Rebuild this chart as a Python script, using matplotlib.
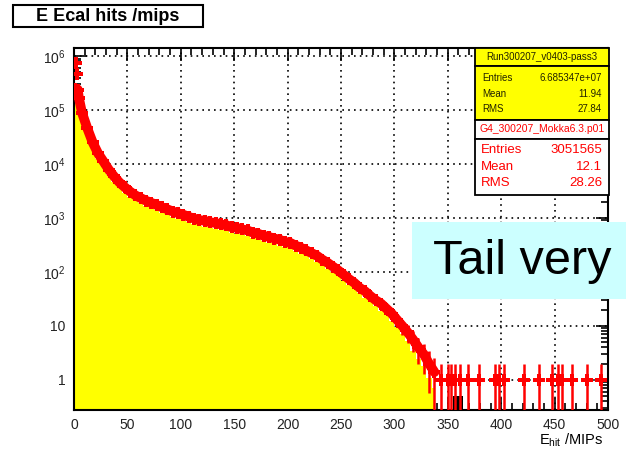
import numpy as np
import matplotlib
matplotlib.use("Agg")
import matplotlib.pyplot as plt
from matplotlib.patches import Rectangle
from matplotlib.ticker import MultipleLocator, LogLocator, NullFormatter

plt.rcParams["font.family"] = ["Liberation Sans", "DejaVu Sans"]
plt.rcParams["mathtext.default"] = "regular"

# data histogram (yellow), bin edges in MIPs and counts per bin
data_edges = [0, 1, 2, 3, 4] + list(range(5, 340, 5)) + [338]
data_counts = [251000, 251000, 224000, 158000, 126000,
               70800, 35500, 20000, 12600, 8900, 6300, 4680, 3630, 2950, 2450,
               2090, 1860, 1660, 1510, 1380, 1260, 1150, 1050, 977, 891,
               832, 776, 724, 692, 661, 631, 603, 575, 537, 513,
               490, 457, 427, 398, 372, 347, 331, 309, 288, 269,
               245, 219, 195, 174, 151, 132, 115, 98, 83, 69,
               58, 48, 40, 33, 28, 23, 19, 16, 12.6, 9.5,
               7.1, 5.2, 3.5, 2.5, 1.8, 1.1, 0.7]

# MC points (red)
mc_x = [0.5, 1.5, 2.5, 3.5, 4.5] + list(np.arange(7.5, 340, 5))
mc_y = [245000, 740000, 470000, 240000, 170000,
        89000, 45700, 25100, 15800, 11200, 7900, 5900, 4570, 3720, 3090,
        2630, 2340, 2090, 1910, 1740, 1580, 1450, 1320, 1230, 1150,
        1050, 977, 912, 891, 832, 813, 759, 741, 676, 661,
        617, 589, 537, 513, 468, 447, 417, 398, 363, 347,
        309, 282, 251, 224, 200, 170, 148, 126, 107, 89,
        74, 63, 51, 44, 36, 30, 26, 21, 17, 13,
        10, 7.6, 5.6, 4.0, 3.0, 2.0, 1.4]
tail_x = [344, 350, 353, 357, 361, 369, 379, 394, 398, 403,
          421, 435, 448, 453, 457, 466, 480, 493]
tail_y = [1] * len(tail_x)

# small black data remnant
black_edges = [355, 364]
black_counts = [0.5]

W, H = 626, 450
fig = plt.figure(figsize=(W / 100, H / 100), dpi=100)
ax = fig.add_axes([74 / W, 1 - 410 / H, (608 - 74) / W, (410 - 48) / H])

ax.stairs(data_counts, data_edges, fill=True, color="#ffff00", baseline=1e-3, zorder=2)
ax.stairs(black_counts, black_edges, fill=True, color="black", baseline=1e-3, zorder=2)

# thick band joining the MC points
ax.plot(mc_x[3:], mc_y[3:], color="red", lw=7, solid_joinstyle="round",
        solid_capstyle="round", zorder=3)
px_ = np.array(mc_x + tail_x)
py_ = np.array(mc_y + tail_y, dtype=float)
ax.errorbar(px_, py_, yerr=np.sqrt(py_), fmt="P", color="red", ms=8,
            mew=0, elinewidth=1.8, capsize=0, zorder=3)

ax.set_yscale("log")
ax.set_xlim(0, 500)
ax.set_ylim(0.278, 1.41e6)

ax.set_xticks(range(0, 501, 50))
ax.xaxis.set_minor_locator(MultipleLocator(10))
ax.set_yticks([1, 10, 1e2, 1e3, 1e4, 1e5, 1e6])
ax.set_yticklabels(["1", "10", "$10^{2}$", "$10^{3}$", "$10^{4}$", "$10^{5}$", "$10^{6}$"])
ax.yaxis.set_minor_locator(LogLocator(base=10, subs=np.arange(2, 10)))
ax.yaxis.set_minor_formatter(NullFormatter())
ax.tick_params(which="both", direction="in", top=True, right=True, labelsize=10,
               width=1.2, labelcolor="#222222")
ax.tick_params(which="major", length=9, pad=6)
ax.tick_params(which="minor", length=5)
ax.grid(True, which="major", color="black", linestyle=(0, (1, 2.5)), linewidth=1.2)
for s in ax.spines.values():
    s.set_linewidth(1.5)

fig.text(603 / W, 1 - 440 / H, r"E$_{hit}$ /MIPs", ha="right", va="center", fontsize=10.5)


def box(x0, y0, x1, y1, fc, lw=1.3):
    fig.add_artist(Rectangle((x0 / W, 1 - y1 / H), (x1 - x0) / W, (y1 - y0) / H,
                             transform=fig.transFigure, facecolor=fc,
                             edgecolor="black", linewidth=lw, zorder=5))


def txt(x, y, s, **kw):
    fig.text(x / W, 1 - y / H, s, va="center", zorder=6, **kw)


# title
box(13, 5, 203, 27, "white", lw=1.5)
txt(108, 16.5, "E Ecal hits /mips", ha="center", fontsize=13, fontweight="bold")

# stats boxes
box(475, 48, 609, 66, "#ffff00")
box(475, 66, 609, 120, "#ffff00")
txt(542, 57, "Run300207_v0403-pass3", ha="center", fontsize=7, color="#222200")
for yy, lab, val in [(78, "Entries", "6.685347e+07"), (94, "Mean", "11.94"), (109, "RMS", "27.84")]:
    txt(482, yy, lab, ha="left", fontsize=7, color="#222200")
    txt(602, yy, val, ha="right", fontsize=7, color="#222200")

box(475, 120, 609, 139, "white")
box(475, 139, 609, 195, "white")
txt(542, 129.5, "G4_300207_Mokka6.3.p01", ha="center", fontsize=7.5, color="red")
for yy, lab, val in [(150, "Entries", "3051565"), (167, "Mean", "12.1"), (183, "RMS", "28.26")]:
    txt(481, yy, lab, ha="left", fontsize=9.5, color="red")
    txt(602, yy, val, ha="right", fontsize=9.5, color="red")

# overlay label
fig.add_artist(Rectangle((412 / W, 1 - 299 / H), (626 - 412) / W, (299 - 222) / H,
                         transform=fig.transFigure, facecolor="#ccffff",
                         edgecolor="none", zorder=5))
txt(522, 262, "Tail very", ha="center", fontsize=35)

fig.savefig("out.png", dpi=100)
